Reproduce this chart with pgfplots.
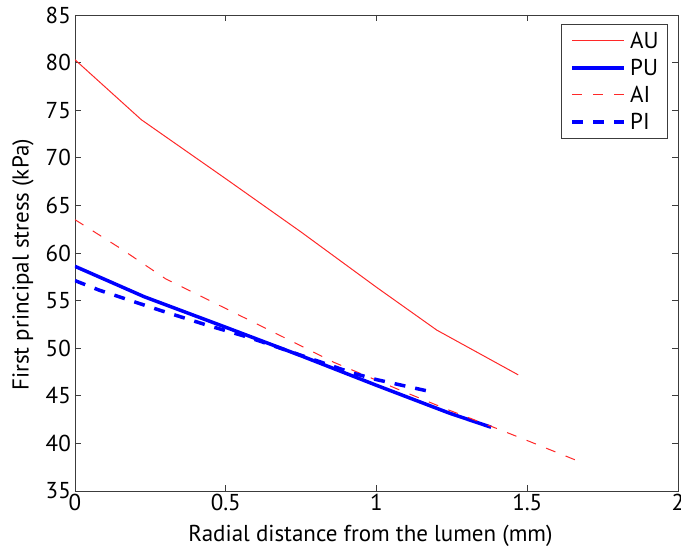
\documentclass[border=0pt]{standalone}
\usepackage{pgfplots}
\pgfplotsset{compat=1.18}
\usepackage{fontspec}
\setmainfont{PT Sans}
\definecolor{mred}{RGB}{255,40,40}
\definecolor{mblue}{RGB}{0,0,255}
\definecolor{axgray}{RGB}{60,60,60}
\newcommand{\lbl}{\fontsize{23}{26}\selectfont}

\begin{document}
\begin{tikzpicture}
\useasboundingbox (-75pt,-58pt) rectangle (606pt,491pt);
\begin{axis}[
    at={(0pt,0pt)}, anchor=south west,
    scale only axis,
    width=603pt, height=476pt,
    xmin=0, xmax=2, ymin=35, ymax=85,
    xtick={0,0.5,1,1.5,2},
    ytick={35,40,...,85},
    tick align=inside,
    major tick length=6pt,
    axis line style={axgray, line width=0.8pt},
    tick style={axgray, line width=0.8pt},
    ticklabel style={font=\lbl, text=black},
    yticklabel style={inner xsep=4pt},
    xticklabel style={inner ysep=3pt},
    /pgf/number format/assume math mode=true,
    xlabel={Radial distance from the lumen (mm)},
    ylabel={First principal stress (kPa)},
    label style={font=\lbl},
    xlabel style={at={([yshift=-45pt]rel axis cs:0.49,0)}, anchor=center},
    ylabel style={at={([xshift=-52pt]rel axis cs:0,0.475)}, anchor=center},
    legend cell align=left,
    legend image code/.code={\draw[#1] (0pt,0pt) -- (52pt,0pt);},
    legend style={at={(rel axis cs:1,1)}, anchor=north east,
        xshift=-10pt, yshift=-9pt,
        draw=axgray, line width=0.8pt,
        inner xsep=9pt, inner ysep=3pt,
        font=\lbl,
        nodes={inner sep=0pt, minimum height=27pt},
        /tikz/every odd column/.append style={column sep=4pt}},
]
\addplot[mred, line width=1pt] coordinates {
    (0,80.3) (0.22,74.0) (0.5,67.8) (0.75,62.2) (1.0,56.4) (1.2,51.9) (1.47,47.2)};
\addlegendentry{AU}
\addplot[mblue, line width=3.5pt] coordinates {
    (0,58.6) (0.23,55.4) (0.5,52.2) (0.75,49.2) (1.0,46.1) (1.24,43.2) (1.38,41.7)};
\addlegendentry{PU}
\addplot[mred, line width=1pt, dash pattern=on 10pt off 11pt] coordinates {
    (0,63.5) (0.15,60.5) (0.3,57.3) (0.6,52.6) (0.86,48.5) (1.07,45.7)
    (1.24,43.5) (1.38,41.8) (1.5,40.3) (1.68,38.0)};
\addlegendentry{AI}
\addplot[mblue, line width=3.5pt, dash pattern=on 11pt off 10pt] coordinates {
    (0,57.1) (0.08,56.1) (0.28,54.0) (0.44,52.4) (0.58,51.1) (0.92,47.4)
    (1.0,46.7) (1.17,45.5)};
\addlegendentry{PI}
\end{axis}
\end{tikzpicture}
\end{document}
